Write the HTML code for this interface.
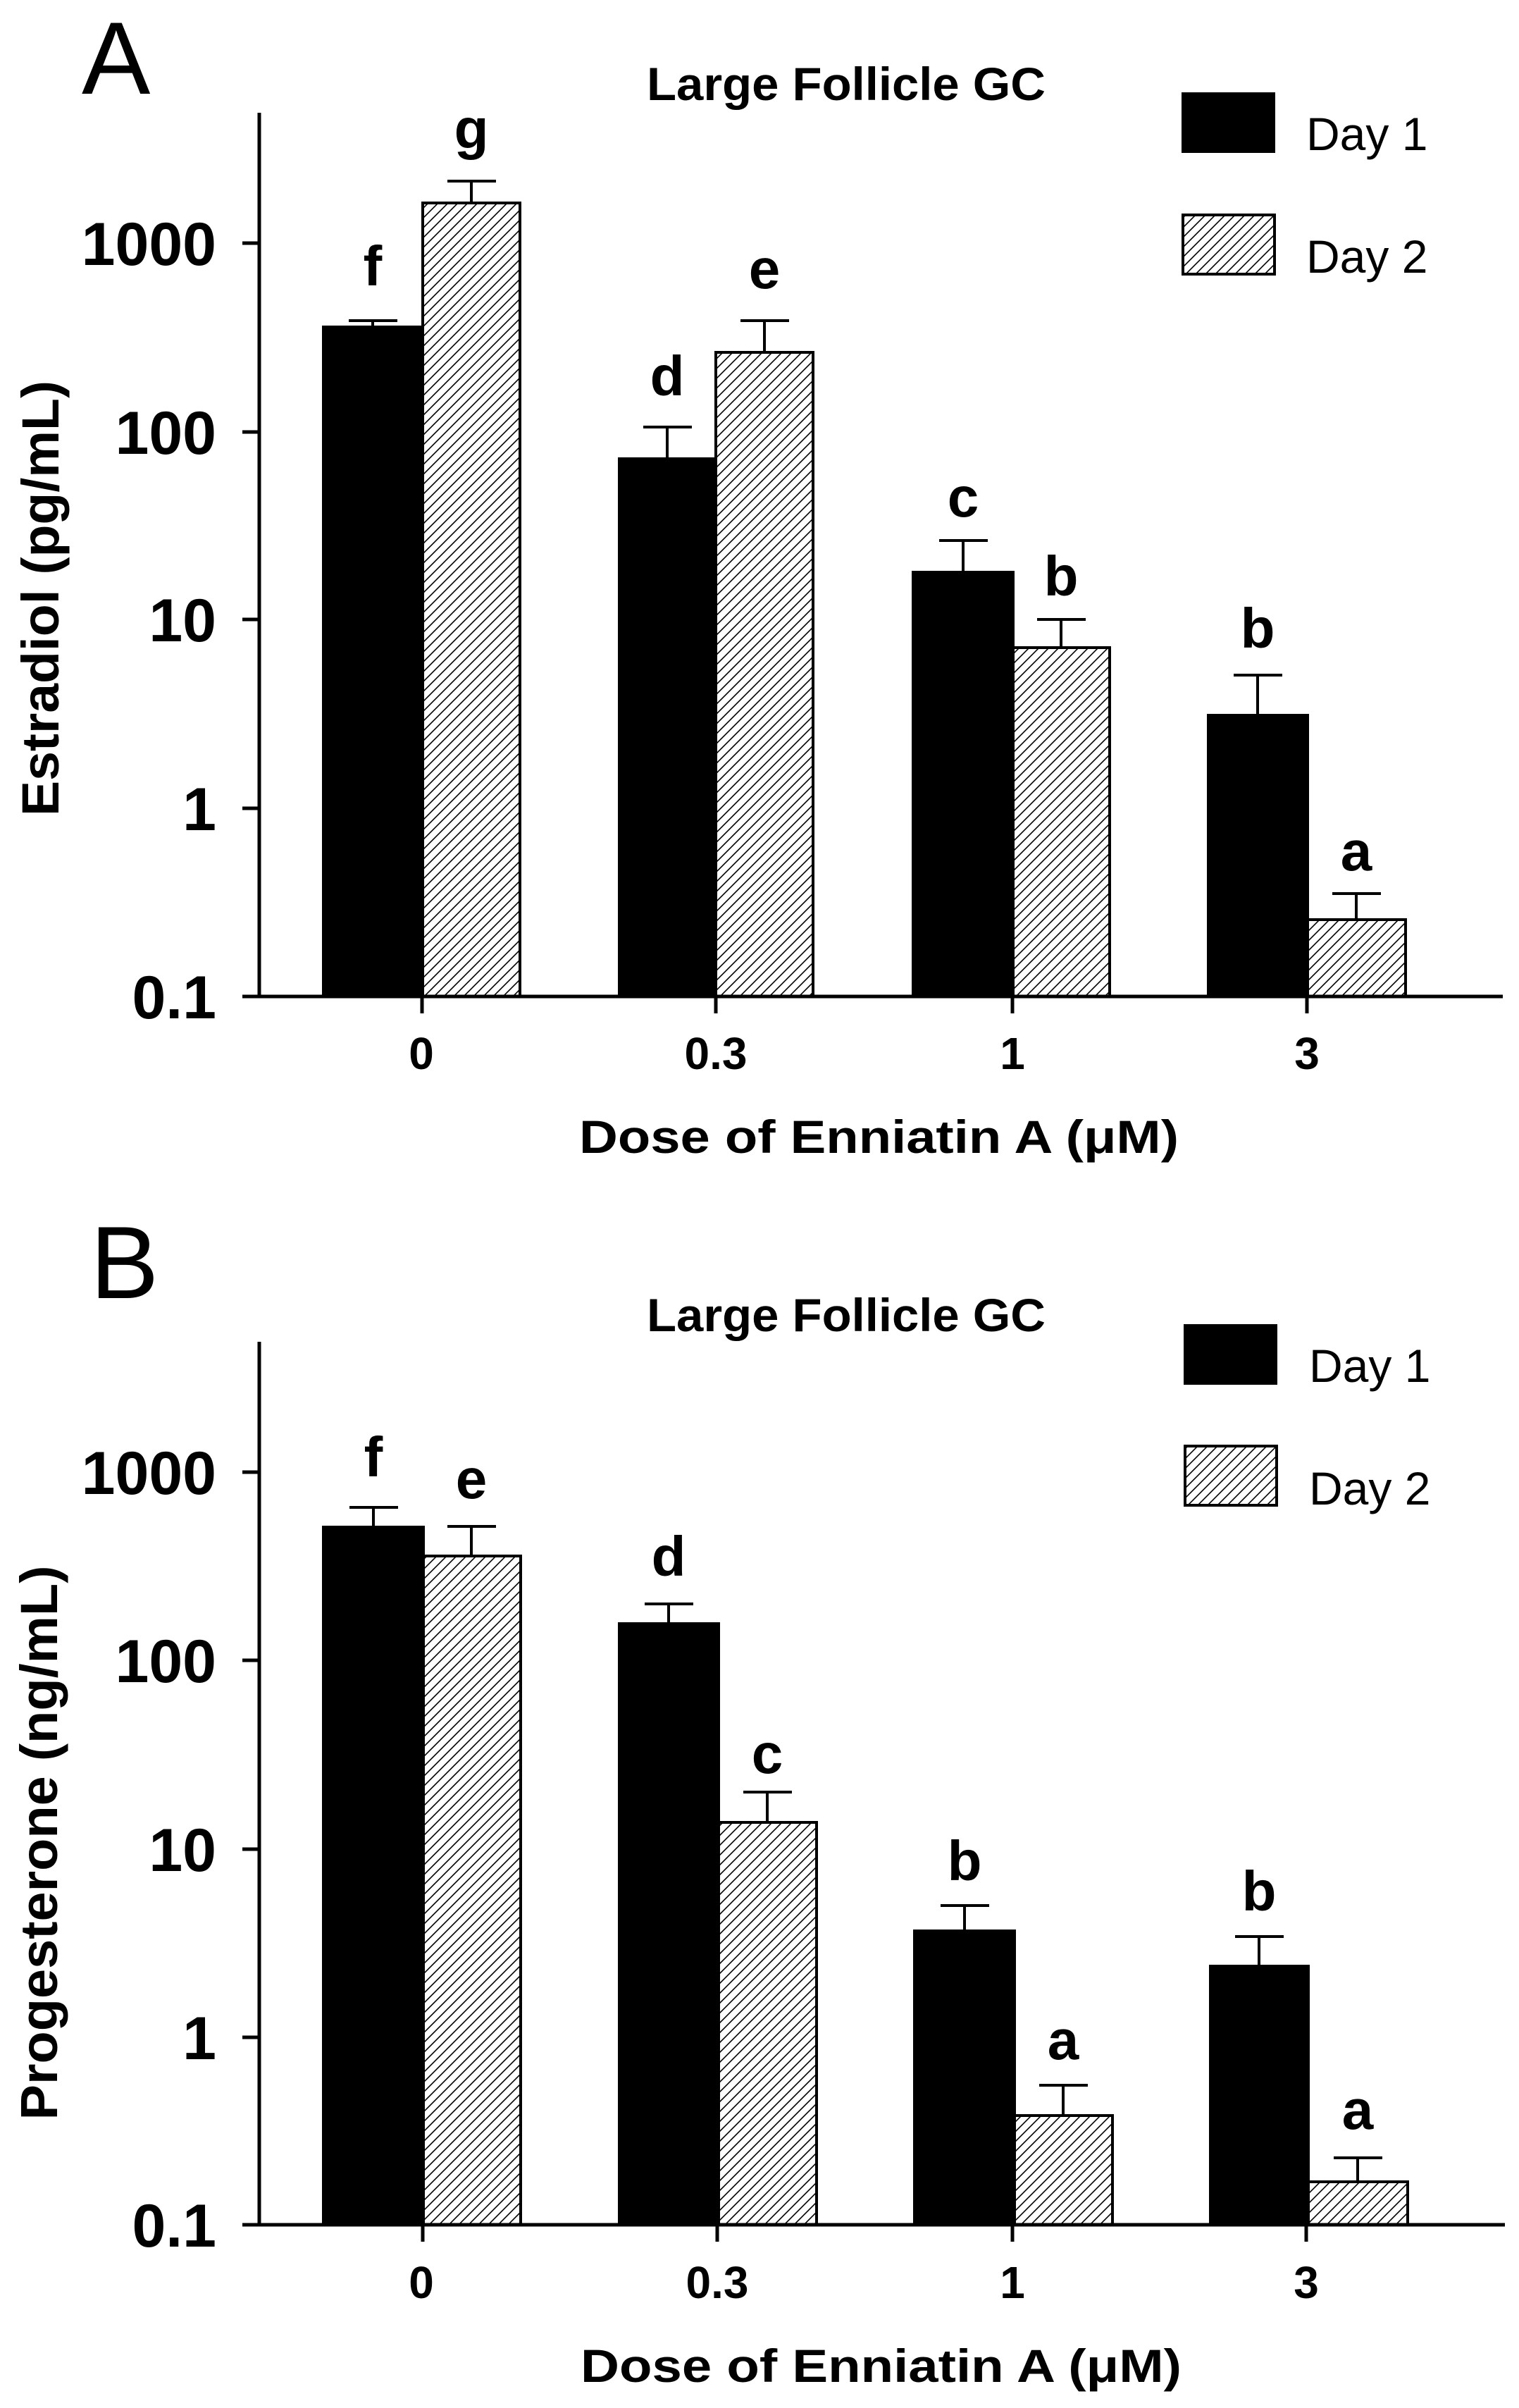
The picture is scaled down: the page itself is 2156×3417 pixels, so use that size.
<!DOCTYPE html>
<html><head><meta charset="utf-8"><style>
html,body{margin:0;padding:0;background:#fff;}
svg{display:block;}
text{font-family:"Liberation Sans",Arial,sans-serif;fill:#000;}
.b{font-weight:bold;}
</style></head><body>
<svg width="2156" height="3417" viewBox="0 0 2156 3417" xmlns="http://www.w3.org/2000/svg">
<defs>
<pattern id="h" patternUnits="userSpaceOnUse" width="14" height="14">
<path d="M-2,16 L16,-2 M-2,2 L2,-2 M12,16 L16,12" stroke="#000" stroke-width="1.6"/>
</pattern>
</defs>

<!-- ===== Panel A ===== -->
<text x="116" y="133" font-size="146">A</text>
<text class="b" x="1201" y="142" font-size="66" text-anchor="middle" textLength="566" lengthAdjust="spacingAndGlyphs">Large Follicle GC</text>
<rect x="1677" y="131" width="133" height="86" fill="#000"/>
<rect x="1679" y="305" width="130" height="84" fill="url(#h)" stroke="#000" stroke-width="4"/>
<text x="1854" y="213" font-size="66">Day 1</text>
<text x="1854" y="387" font-size="66">Day 2</text>

<g stroke="#000" stroke-width="4">
<rect x="459" y="464" width="141" height="950" fill="#000"/>
<rect x="600" y="288" width="138" height="1126" fill="url(#h)"/>
<rect x="879" y="651" width="137" height="763" fill="#000"/>
<rect x="1016" y="500" width="138" height="914" fill="url(#h)"/>
<rect x="1296" y="812" width="142" height="602" fill="#000"/>
<rect x="1438" y="919" width="137" height="495" fill="url(#h)"/>
<rect x="1715" y="1015" width="141" height="399" fill="#000"/>
<rect x="1856" y="1305" width="139" height="109" fill="url(#h)"/>
</g>
<g stroke="#000" stroke-width="4" fill="none">
<path d="M529,464V455 M495,455H564"/>
<path d="M669,288V257 M635,257H704"/>
<path d="M947,651V606 M913,606H982"/>
<path d="M1085,500V455 M1051,455H1120"/>
<path d="M1367,812V767 M1333,767H1402"/>
<path d="M1506,919V879 M1472,879H1541"/>
<path d="M1785,1015V958 M1751,958H1820"/>
<path d="M1925,1305V1268 M1891,1268H1960"/>
</g>
<g class="b" font-size="80" text-anchor="middle" font-weight="bold">
<text x="529" y="405">f</text>
<text x="669" y="210">g</text>
<text x="947" y="561">d</text>
<text x="1085" y="409">e</text>
<text x="1367" y="733">c</text>
<text x="1506" y="845">b</text>
<text x="1785" y="919">b</text>
<text x="1925" y="1235">a</text>
</g>
<g stroke="#000" stroke-width="5" fill="none">
<path d="M368,160V1416 M366,1414H2133"/>
<path d="M344,345H368 M344,613H368 M344,879H368 M344,1147H368 M344,1414H368"/>
<path d="M599,1414V1438 M1016,1414V1438 M1437,1414V1438 M1855,1414V1438"/>
</g>
<g class="b" font-size="86" text-anchor="end" font-weight="bold">
<text x="307" y="376">1000</text>
<text x="307" y="644">100</text>
<text x="307" y="910">10</text>
<text x="307" y="1178">1</text>
<text x="307" y="1445">0.1</text>
</g>
<g class="b" font-size="64" text-anchor="middle" font-weight="bold">
<text x="598" y="1517">0</text>
<text x="1016" y="1517">0.3</text>
<text x="1437" y="1517">1</text>
<text x="1855" y="1517">3</text>
</g>
<text class="b" x="822" y="1636" font-size="66" textLength="851" lengthAdjust="spacingAndGlyphs">Dose of Enniatin A (μM)</text>
<text class="b" x="0" y="0" font-size="74" text-anchor="middle" transform="translate(83,849) rotate(-90)" textLength="618" lengthAdjust="spacingAndGlyphs">Estradiol  (pg/mL)</text>

<!-- ===== Panel B ===== -->
<text x="128" y="1842" font-size="146">B</text>
<text class="b" x="1201" y="1889" font-size="66" text-anchor="middle" textLength="566" lengthAdjust="spacingAndGlyphs">Large Follicle GC</text>
<rect x="1680" y="1879" width="133" height="86" fill="#000"/>
<rect x="1682" y="2052" width="130" height="84" fill="url(#h)" stroke="#000" stroke-width="4"/>
<text x="1858" y="1961" font-size="66">Day 1</text>
<text x="1858" y="2135" font-size="66">Day 2</text>

<g stroke="#000" stroke-width="4">
<rect x="459" y="2167" width="142" height="990" fill="#000"/>
<rect x="601" y="2208" width="138" height="949" fill="url(#h)"/>
<rect x="879" y="2304" width="141" height="853" fill="#000"/>
<rect x="1020" y="2586" width="139" height="571" fill="url(#h)"/>
<rect x="1298" y="2740" width="142" height="417" fill="#000"/>
<rect x="1440" y="3002" width="139" height="155" fill="url(#h)"/>
<rect x="1718" y="2790" width="139" height="367" fill="#000"/>
<rect x="1857" y="3096" width="141" height="61" fill="url(#h)"/>
</g>
<g stroke="#000" stroke-width="4" fill="none">
<path d="M530,2167V2139 M496,2139H565"/>
<path d="M669,2208V2166 M635,2166H704"/>
<path d="M949,2304V2276 M915,2276H984"/>
<path d="M1089,2586V2543 M1055,2543H1124"/>
<path d="M1369,2740V2704 M1335,2704H1404"/>
<path d="M1509,3002V2959 M1475,2959H1544"/>
<path d="M1787,2790V2748 M1753,2748H1822"/>
<path d="M1927,3096V3062 M1893,3062H1962"/>
</g>
<g class="b" font-size="80" text-anchor="middle" font-weight="bold">
<text x="530" y="2095">f</text>
<text x="669" y="2126">e</text>
<text x="949" y="2236">d</text>
<text x="1089" y="2516">c</text>
<text x="1369" y="2668">b</text>
<text x="1509" y="2922">a</text>
<text x="1787" y="2711">b</text>
<text x="1927" y="3021">a</text>
</g>
<g stroke="#000" stroke-width="5" fill="none">
<path d="M368,1904V3159 M366,3157H2136"/>
<path d="M344,2089H368 M344,2356H368 M344,2624H368 M344,2891H368 M344,3157H368"/>
<path d="M600,3157V3181 M1018,3157V3181 M1437,3157V3181 M1854,3157V3181"/>
</g>
<g class="b" font-size="86" text-anchor="end" font-weight="bold">
<text x="307" y="2120">1000</text>
<text x="307" y="2387">100</text>
<text x="307" y="2655">10</text>
<text x="307" y="2922">1</text>
<text x="307" y="3188">0.1</text>
</g>
<g class="b" font-size="64" text-anchor="middle" font-weight="bold">
<text x="598" y="3261">0</text>
<text x="1018" y="3261">0.3</text>
<text x="1437" y="3261">1</text>
<text x="1854" y="3261">3</text>
</g>
<text class="b" x="824" y="3380" font-size="66" textLength="853" lengthAdjust="spacingAndGlyphs">Dose of Enniatin A (μM)</text>
<text class="b" x="0" y="0" font-size="74" text-anchor="middle" transform="translate(81,2615) rotate(-90)" textLength="787" lengthAdjust="spacingAndGlyphs">Progesterone  (ng/mL)</text>
</svg>
</body></html>
